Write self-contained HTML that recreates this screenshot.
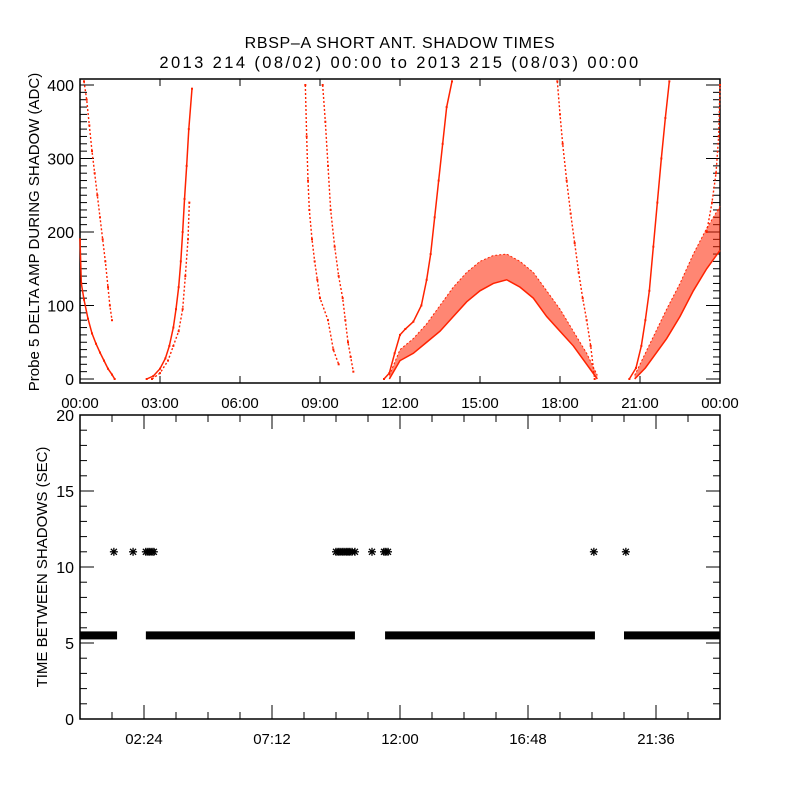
<!DOCTYPE html>
<html><head><meta charset="utf-8"><style>
body{margin:0;background:#fff;}
svg{display:block;font-family:"Liberation Sans",sans-serif;}
</style></head><body>
<svg id="c" width="800" height="800" viewBox="0 0 800 800">
<rect width="800" height="800" fill="#fff"/>
<text x="400" y="48" text-anchor="middle" font-size="16" letter-spacing="0.7">RBSP–A SHORT ANT. SHADOW TIMES</text>
<text x="400" y="68" text-anchor="middle" font-size="16.5" letter-spacing="2.4">2013 214 (08/02) 00:00 to 2013 215 (08/03) 00:00</text>
<g id="topPanel"></g>
<g id="botPanel"></g>
</svg>
<script>
// ---- top panel data (hour, ADC) ----
const curveA=[[0.15,405],[0.25,380],[0.35,345],[0.45,310],[0.55,280],[0.65,250],[0.75,220],[0.85,190],[0.95,160],[1.05,125],[1.12,100],[1.2,80]];
const curveB=[[0.0,190],[0.05,130],[0.15,108],[0.3,82],[0.45,62],[0.6,48],[0.75,36],[0.9,25],[1.05,14],[1.2,6],[1.3,0]];
const curveC=[[2.5,0],[2.75,4],[3.0,14],[3.2,28],[3.35,45],[3.5,70],[3.6,95],[3.7,125],[3.78,160],[3.85,200],[3.92,245],[4.0,290],[4.08,340],[4.2,395]];
const curveC2=[[2.7,0],[3.0,8],[3.3,25],[3.5,45],[3.7,65],[3.85,95],[3.95,140],[4.05,190],[4.1,240]];
const curveD1=[[8.45,400],[8.5,330],[8.55,270],[8.6,230],[8.7,190],[8.8,160],[8.9,135],[9.0,110],[9.3,80],[9.5,40],[9.7,20]];
const curveD2=[[9.1,400],[9.2,350],[9.3,290],[9.4,230],[9.55,180],[9.7,140],[9.85,110],[9.95,80],[10.05,50],[10.15,30],[10.25,10]];
const curveE=[[11.4,0],[11.6,8],[11.8,35],[12.0,60],[12.2,68],[12.5,78],[12.8,100],[13.0,135],[13.15,170],[13.3,220],[13.45,270],[13.6,320],[13.75,370],[13.95,405]];
const curveG=[[17.9,405],[18.0,360],[18.1,320],[18.25,270],[18.4,225],[18.55,185],[18.7,145],[18.85,110],[19.0,80],[19.15,45],[19.3,0]];
const curveH=[[20.6,0],[20.85,15],[21.05,45],[21.2,80],[21.35,120],[21.5,180],[21.65,240],[21.8,300],[21.95,355],[22.1,405]];
const curveI=[[23.5,200],[23.7,240],[23.85,280],[23.95,330],[24.0,400]];
const archHour=[11.6,12.0,12.5,13.0,13.5,14.0,14.5,15.0,15.5,16.0,16.5,17.0,17.5,18.0,18.5,19.0,19.4];
const archLow=[0,25,35,50,65,85,105,120,130,135,125,110,85,65,45,20,0];
const archHigh=[5,40,55,75,100,125,145,160,168,170,160,145,120,95,65,35,5];
const bandHour=[20.8,21.2,21.6,22.0,22.5,23.0,23.5,24.0];
const bandLow=[0,15,35,55,85,120,150,175];
const bandHigh=[5,35,65,95,130,170,205,235];
const topXTicks=["00:00","03:00","06:00","09:00","12:00","15:00","18:00","21:00","00:00"];
const topYTicks=[0,100,200,300,400];
// ---- bottom panel data (hour, seconds) ----
const gapHours=[1.27,1.99,2.47,2.55,2.62,2.7,2.77,9.6,9.68,9.75,9.83,9.9,9.98,10.05,10.12,10.2,10.31,10.95,11.4,11.47,11.55,19.27,20.47];
const gapValue=[11,11,11,11,11,11,11,11,11,11,11,11,11,11,11,11,11,11,11,11,11,11,11];
const runStart=[0,2.47,11.44,20.4];
const runEnd=[1.39,10.31,19.31,24];
const runValue=[5.5,5.5,5.5,5.5];
const botXTicks=["02:24","07:12","12:00","16:48","21:36"];
const botYTicks=[0,5,10,15,20];

const NS="http://www.w3.org/2000/svg";
function mk(p,t,a){const e=document.createElementNS(NS,t);for(const k in a)e.setAttribute(k,a[k]);p.appendChild(e);return e;}
const L=80,R=720;
const xs=h=>L+h*(R-L)/24;
const yT=v=>379-v*0.735;
const yB=v=>719-v*15.2;
const topG=document.getElementById('topPanel'),botG=document.getElementById('botPanel');
const RED="#ff2200";

// top axes
let f=mk(topG,'rect',{x:L,y:79,width:R-L,height:304,fill:'none',stroke:'#000','stroke-width':1.5});


for(let v=0;v<=400;v+=10){const maj=v%100===0;const w=maj?14:7;
 mk(topG,'line',{x1:L,x2:L+w,y1:yT(v),y2:yT(v),stroke:'#000'});
 mk(topG,'line',{x1:R,x2:R-w,y1:yT(v),y2:yT(v),stroke:'#000'});}
topYTicks.forEach(v=>{const t=mk(topG,'text',{x:L-6,y:yT(v)+6,'text-anchor':'end','font-size':16});t.textContent=v;
 
 });
topXTicks.forEach((s,i)=>{const x=xs(i*3);
 mk(topG,'line',{x1:x,x2:x,y1:383,y2:376,stroke:'#000'});mk(topG,'line',{x1:x,x2:x,y1:79,y2:86,stroke:'#000'});
 const t=mk(topG,'text',{x:x,y:408,'text-anchor':'middle','font-size':15});t.textContent=s;
 
 });
let yl=mk(topG,'text',{x:0,y:0,transform:'translate(39,232) rotate(-90)','text-anchor':'middle','font-size':15});
yl.textContent="Probe 5 DELTA AMP DURING SHADOW (ADC)";



function band(hs,lo,hi,name){const pts=hs.map((h,i)=>xs(h)+','+yT(hi[i])).concat(hs.map((h,i)=>xs(h)+','+yT(lo[i])).reverse());
 const p=mk(topG,'polygon',{points:pts.join(' '),fill:RED,'fill-opacity':0.55});
 
 
 mk(topG,'polyline',{points:hs.map((h,i)=>xs(h)+','+yT(lo[i])).join(' '),fill:'none',stroke:RED,'stroke-width':1.5});
 mk(topG,'polyline',{points:hs.map((h,i)=>xs(h)+','+yT(hi[i])).join(' '),fill:'none',stroke:RED,'stroke-width':1,'stroke-dasharray':'2 2'});}
band(archHour,archLow,archHigh,'arch-band');
band(bandHour,bandLow,bandHigh,'evening-band');
function curve(arr,name,dense){const g=mk(topG,'g',{});
 
 
 mk(g,'polyline',{points:arr.map(d=>xs(d[0])+','+yT(Math.min(d[1],405))).join(' '),fill:'none',stroke:RED,'stroke-width':dense?1.5:1.4,'stroke-dasharray':dense?'':'2 2'});
 arr.forEach(d=>mk(g,'rect',{x:xs(d[0])-1,y:yT(Math.min(d[1],405))-1,width:2,height:2,fill:RED}));}
curve(curveA,'curve-a',false);curve(curveB,'curve-b',true);curve(curveC,'curve-c',true);curve(curveC2,'curve-c2',false);
curve(curveD1,'curve-d1',false);curve(curveD2,'curve-d2',false);curve(curveE,'curve-e',true);curve(curveG,'curve-g',false);
curve(curveH,'curve-h',true);curve(curveI,'curve-i',false);

// bottom axes
f=mk(botG,'rect',{x:L,y:415,width:R-L,height:304,fill:'none',stroke:'#000','stroke-width':1.5});


for(let v=0;v<=20;v++){const maj=v%5===0;const w=maj?14:7;
 mk(botG,'line',{x1:L,x2:L+w,y1:yB(v),y2:yB(v),stroke:'#000'});
 mk(botG,'line',{x1:R,x2:R-w,y1:yB(v),y2:yB(v),stroke:'#000'});}
botYTicks.forEach(v=>{const t=mk(botG,'text',{x:L-6,y:yB(v)+6,'text-anchor':'end','font-size':16});t.textContent=v;
 
 });
for(let i=1;i<20;i++){const x=xs(i*1.2);const w=i%4===2?14:7;
 mk(botG,'line',{x1:x,x2:x,y1:719,y2:719-w,stroke:'#000'});mk(botG,'line',{x1:x,x2:x,y1:415,y2:415+w,stroke:'#000'});}
botXTicks.forEach((s,i)=>{const x=xs(2.4+i*4.8);
 const t=mk(botG,'text',{x:x,y:744,'text-anchor':'middle','font-size':15});t.textContent=s;
 
 });
yl=mk(botG,'text',{x:0,y:0,transform:'translate(47,567) rotate(-90)','text-anchor':'middle','font-size':15});
yl.textContent="TIME BETWEEN SHADOWS (SEC)";


runStart.forEach((s,i)=>{const r=mk(botG,'rect',{x:xs(s),y:yB(runValue[i])-4,width:xs(runEnd[i])-xs(s),height:8,fill:'#000'});
 
 });
gapHours.forEach((h,i)=>{const x=xs(h),y=yB(gapValue[i]);const g=mk(botG,'g',{stroke:'#000','stroke-width':1.3});
 
 
 mk(g,'line',{x1:x-4,x2:x+4,y1:y,y2:y});mk(g,'line',{x1:x,x2:x,y1:y-4,y2:y+4});
 mk(g,'line',{x1:x-3,x2:x+3,y1:y-3,y2:y+3});mk(g,'line',{x1:x-3,x2:x+3,y1:y+3,y2:y-3});});
</script>
</body></html>
